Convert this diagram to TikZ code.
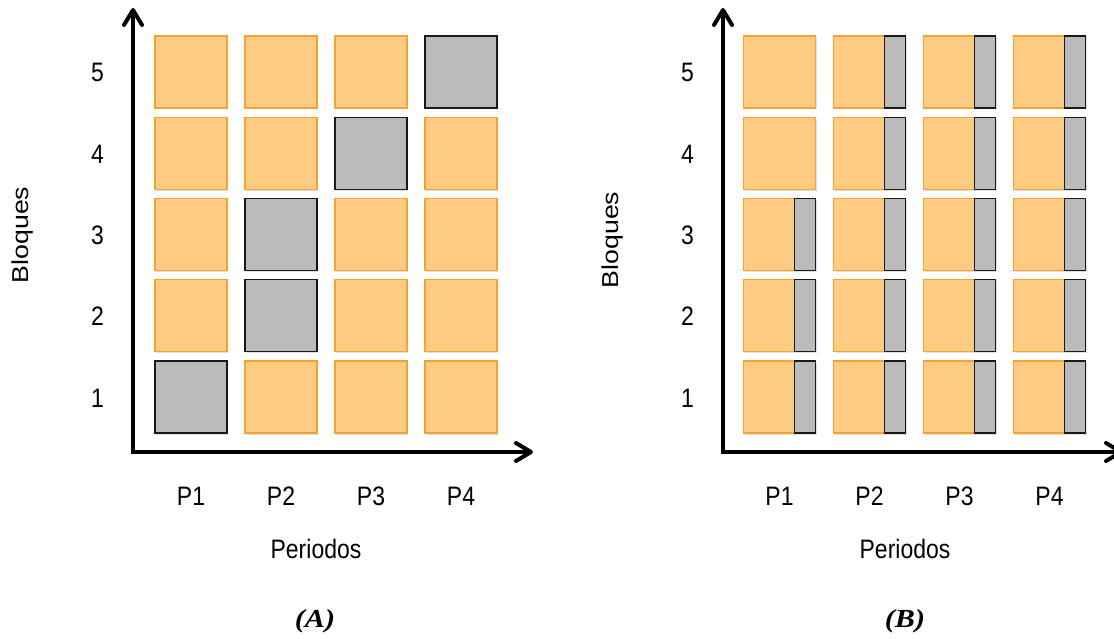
\documentclass[tikz,border=0pt]{standalone}
\usepackage{fontspec}
\setmainfont{Liberation Sans}
\newfontfamily\capfont{Liberation Serif}
\usetikzlibrary{arrows.meta,shadows}
\definecolor{cellfill}{RGB}{253,204,130}
\definecolor{celledge}{RGB}{244,162,50}
\definecolor{blockfill}{RGB}{187,187,187}
\definecolor{blockedge}{RGB}{25,25,25}
% labels are set slightly taller than wide, captions slightly wider
\newcommand{\tallbox}[1]{\scalebox{1}[1.16]{#1}}
\newcommand{\widebox}[1]{\scalebox{1.16}[1]{#1}}
\begin{document}
\begin{tikzpicture}[x=1pt,y=-1pt,
  cell/.style={draw=celledge, fill=cellfill, line width=1.2pt,
    minimum width=72pt, minimum height=72pt, inner sep=0pt, outer sep=0pt,
    drop shadow={shadow xshift=1pt,shadow yshift=-1.5pt,opacity=0.25}},
  greycell/.style={cell, draw=blockedge, fill=blockfill},
  strip/.style={draw=blockedge, fill=blockfill, line width=1.2pt,
    minimum width=21pt, minimum height=72pt, inner sep=0pt, outer sep=0pt},
  axis/.style={line width=4pt, line join=miter,
    {Straight Barb[length=15pt,width=18pt,round]}-{Straight Barb[length=15pt,width=18pt,round]}},
  lbl/.style={font=\fontsize{23}{27}\selectfont, inner sep=0pt, anchor=base},
  captext/.style={font=\capfont\bfseries\itshape\fontsize{26}{30}\selectfont, inner sep=0pt, anchor=base}]
\useasboundingbox (0,0) rectangle (1114,639);

% ---- panel A: one grey block per row ----
\foreach \c in {1,...,4}{
  \foreach \r in {1,...,5}{
    \pgfmathtruncatemacro\isgrey{(\c==1 && \r==1) || (\c==2 && (\r==2 || \r==3)) || (\c==3 && \r==4) || (\c==4 && \r==5)}
    \ifnum\isgrey=1 \def\sty{greycell}\else\def\sty{cell}\fi
    \node[\sty] (A\c\r) at ({101+90*\c},{478.25-81.25*\r}) {};
  }
}
\coordinate (Ao) at (133,452);
\coordinate (Ay) at (133,8);
\coordinate (Ax) at (533,452);
\draw[axis] (Ay) -- (Ao) -- (Ax);
\foreach \r in {1,...,5}{
  \node[lbl] (An\r) at (97.5,{488.25-81.25*\r}) {\tallbox{\r}};
}
\foreach \c in {1,...,4}{
  \node[lbl] (AP\c) at ({101+90*\c},505) {\tallbox{P\c}};
}
\node[lbl] (Aper) at (316,558) {\tallbox{Periodos}};
\node[lbl, rotate=90] (Ablo) at (28,235) {\widebox{Bloques}};
\node[captext] (Acap) at (315,627) {\widebox{(A)}};

% ---- panel B: grey strip at the right of each cell ----
\foreach \c in {1,...,4}{
  \foreach \r in {1,...,5}{
    \node[cell] (B\c\r) at ({689.5+90*\c},{478.25-81.25*\r}) {};
    \pgfmathtruncatemacro\nostrip{(\c==1 && \r>3)}
    \ifnum\nostrip=0
      \node[strip, anchor=north east] (S\c\r) at (B\c\r.north east) {};
    \fi
  }
}
\coordinate (Bo) at (723,452);
\coordinate (By) at (723,8);
\coordinate (Bx) at (1123,452);
\draw[axis] (By) -- (Bo) -- (Bx);
\foreach \r in {1,...,5}{
  \node[lbl] (Bn\r) at (687.5,{488.25-81.25*\r}) {\tallbox{\r}};
}
\foreach \c in {1,...,4}{
  \node[lbl] (BP\c) at ({689.5+90*\c},505) {\tallbox{P\c}};
}
\node[lbl] (Bper) at (905,558) {\tallbox{Periodos}};
\node[lbl, rotate=90] (Bblo) at (618,240) {\widebox{Bloques}};
\node[captext] (Bcap) at (905,627) {\widebox{(B)}};
\end{tikzpicture}
\end{document}
